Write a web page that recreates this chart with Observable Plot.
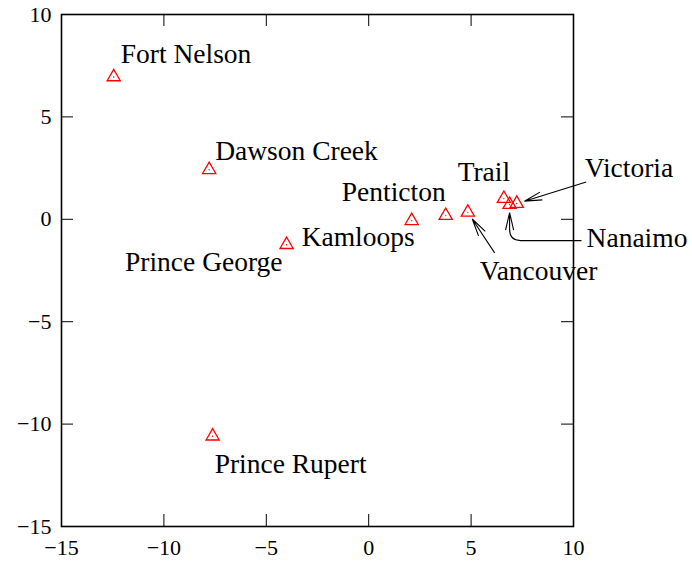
<!DOCTYPE html>
<html>
<head>
<meta charset="utf-8">
<script src="https://cdn.jsdelivr.net/npm/d3@7"></script>
<script src="https://cdn.jsdelivr.net/npm/@observablehq/plot@0.6"></script>
<style>
  html, body { margin: 0; padding: 0; background: #fff; }
  #chart svg { display: block; }
</style>
</head>
<body>
<div id="chart"></div>
<script>
// ---- data ----
const cities = ["Fort Nelson", "Dawson Creek", "Prince George", "Kamloops", "Penticton",
                "Vancouver", "Trail", "Nanaimo", "Victoria", "Prince Rupert"];
const xValues = [-12.45, -7.79, -4.01, 2.10, 3.76, 4.84, 6.60, 6.88, 7.23, -7.62];
const yValues = [6.95, 2.42, -1.24, -0.07, 0.18, 0.34, 1.01, 0.72, 0.77, -10.59];
const xTicks = [-15, -10, -5, 0, 5, 10];
const yTicks = [-15, -10, -5, 0, 5, 10];
// callout (leader) tails, in data units
const calloutCities = ["Victoria", "Vancouver", "Nanaimo"];
const calloutTailX = [10.62, 6.15, 10.39];
const calloutTailY = [1.82, -1.64, -1.04];
const calloutKind = ["straight", "straight", "elbow"];

const points = cities.map((c, i) => ({city: c, x: xValues[i], y: yValues[i]}));
const byCity = Object.fromEntries(points.map(d => [d.city, d]));
const callouts = calloutCities.map((c, i) => ({
  city: c, x1: calloutTailX[i], y1: calloutTailY[i],
  x2: byCity[c].x, y2: byCity[c].y, kind: calloutKind[i]
}));

// ---- layout (label placement in pixels) ----
const labelPlacement = {
  "Fort Nelson":   {anchor: "start",  dx: 7,   dy: -22.5},
  "Dawson Creek":  {anchor: "start",  dx: 6,   dy: -19},
  "Prince George": {anchor: "end",    dx: -4,  dy: 17.5},
  "Kamloops":      {anchor: "end",    dx: 3,   dy: 16},
  "Penticton":     {anchor: "end",    dx: 0,   dy: -23},
  "Trail":         {anchor: "middle", dx: -20, dy: -26},
  "Victoria":      {anchor: "start",  dx: 68,  dy: -35},
  "Nanaimo":       {anchor: "start",  dx: 77,  dy: 33.5},
  "Vancouver":     {anchor: "start",  dx: 12,  dy: 59},
  "Prince Rupert": {anchor: "start",  dx: 2,   dy: 28}
};

// custom curve: leader line with an open arrowhead, stopping short of the point
function leaderCurve(kind) {
  const inset = 8, head = 18, half = 13 * Math.PI / 180, r = 11;
  return function(ctx) {
    let pts = [];
    return {
      areaStart() {}, areaEnd() {},
      lineStart() { pts = []; },
      point(x, y) { pts.push([+x, +y]); },
      lineEnd() {
        if (pts.length < 2) return;
        const [x0, y0] = pts[0], [x1, y1] = pts[pts.length - 1];
        let tip, ux, uy;
        if (kind === "elbow") {
          ux = 0; uy = -1;
          tip = [x1, y1 + inset];
          ctx.moveTo(x0, y0);
          ctx.lineTo(x1 + r, y0);
          ctx.quadraticCurveTo(x1, y0, x1, y0 - r);
          ctx.lineTo(tip[0], tip[1]);
        } else {
          const L = Math.hypot(x1 - x0, y1 - y0);
          ux = (x1 - x0) / L; uy = (y1 - y0) / L;
          tip = [x1 - ux * inset, y1 - uy * inset];
          ctx.moveTo(x0, y0);
          ctx.lineTo(tip[0], tip[1]);
        }
        const a = Math.atan2(-uy, -ux);
        ctx.moveTo(tip[0] + head * Math.cos(a + half), tip[1] + head * Math.sin(a + half));
        ctx.lineTo(tip[0], tip[1]);
        ctx.lineTo(tip[0] + head * Math.cos(a - half), tip[1] + head * Math.sin(a - half));
      }
    };
  };
}

const font = "'Liberation Serif', 'Times New Roman', serif";
const labelMarks = cities.map(c => {
  const p = labelPlacement[c];
  return Plot.text(points.filter(d => d.city === c), {
    x: "x", y: "y", text: "city",
    textAnchor: p.anchor, dx: p.dx, dy: p.dy,
    fontSize: 27.5, fill: "#000"
  });
});

const TL = 12; // tick length
const chart = Plot.plot({
  width: 692,
  height: 561,
  marginLeft: 61,
  marginRight: 119,
  marginTop: 14,
  marginBottom: 35,
  style: {fontFamily: font, background: "#fff", overflow: "visible"},
  x: {domain: [-15, 10], ticks: xTicks},
  y: {domain: [-15, 10], ticks: yTicks},
  marks: [
    Plot.axisX(xTicks, {tickSize: 0, tickPadding: 13, fontSize: 22, fill: "#000", label: null}),
    Plot.axisY(yTicks, {tickSize: 0, tickPadding: 10, fontSize: 22, fill: "#000", label: null, dy: 0}),
    // inward ticks on all four sides
    Plot.tickX(xTicks, {x: d => d, insetTop: 512 - TL, stroke: "#000", strokeWidth: 1}),
    Plot.tickX(xTicks, {x: d => d, insetBottom: 512 - TL, stroke: "#000", strokeWidth: 1}),
    Plot.tickY(yTicks, {y: d => d, insetRight: 512 - TL, stroke: "#000", strokeWidth: 1}),
    Plot.tickY(yTicks, {y: d => d, insetLeft: 512 - TL, stroke: "#000", strokeWidth: 1}),
    Plot.frame({stroke: "#000", strokeWidth: 1.6}),
    ...callouts.map(c => Plot.link([c], {
      x1: "x1", y1: "y1", x2: "x2", y2: "y2",
      curve: leaderCurve(c.kind), stroke: "#000", strokeWidth: 1.1
    })),
    Plot.dot(points, {x: "x", y: "y", symbol: "triangle", r: 4.9, stroke: "#ff0000", fill: "none", strokeWidth: 1.3}),
    Plot.dot(points, {x: "x", y: "y", r: 0.7, fill: "#ff0000", stroke: "none"}),
    ...labelMarks
  ]
});
document.getElementById("chart").appendChild(chart);
</script>
</body>
</html>
